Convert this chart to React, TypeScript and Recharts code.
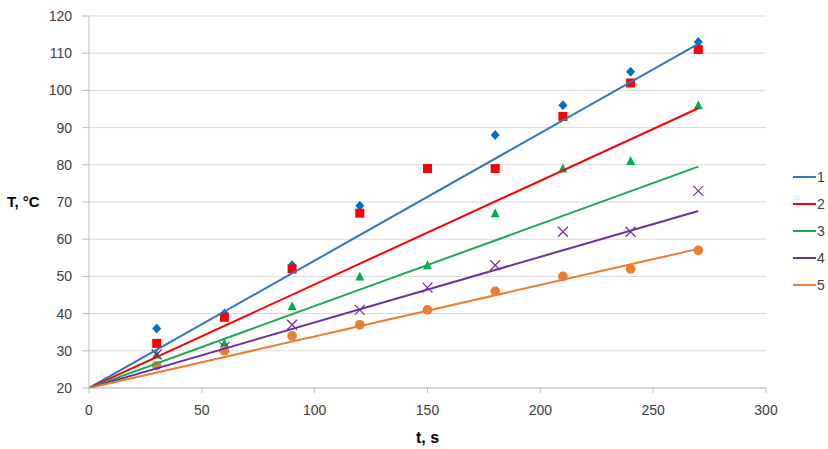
import {
  CartesianGrid,
  Label,
  Scatter,
  ScatterChart,
  XAxis,
  YAxis,
} from "recharts";

// heating time, s
const times = [30, 60, 90, 120, 150, 180, 210, 240, 270];

// measured temperature, °C
const series1 = [36, 40, 53, 69, 79, 88, 96, 105, 113];
const series2 = [32, 39, 52, 67, 79, 79, 93, 102, 111];
const series3 = [29, 32, 42, 50, 53, 67, 79, 81, 96];
const series4 = [29, 31, 37, 41, 47, 53, 62, 62, 73];
const series5 = [26, 30, 34, 37, 41, 46, 50, 52, 57];

// trend lines: start point and value at the last time
const trendStartT = 0;
const trendStartValue = 20;
const trendEndT = 270;
const trendEndValues = [112.5, 95.2, 79.5, 67.6, 57.4];

const seriesNames = ["1", "2", "3", "4", "5"];
const xTicks = [0, 50, 100, 150, 200, 250, 300];
const yTicks = [20, 30, 40, 50, 60, 70, 80, 90, 100, 110, 120];

const lineColors = ["#2E78BE", "#FF0000", "#1DA756", "#7030A0", "#ED7D31"];
const markerColors = ["#0070C0", "#FF0000", "#00B050", "#7030A0", "#ED7D31"];

const axisGray = "#BFBFBF";
const textGray = "#404040";

type P = { cx?: number; cy?: number };

const Diamond = ({ cx = 0, cy = 0 }: P) => (
  <path
    d={`M${cx},${cy - 5}L${cx + 4.5},${cy}L${cx},${cy + 5}L${cx - 4.5},${cy}Z`}
    fill={markerColors[0]}
  />
);
const Square = ({ cx = 0, cy = 0 }: P) => (
  <rect x={cx - 4.5} y={cy - 4.5} width={9} height={9} fill={markerColors[1]} />
);
const Triangle = ({ cx = 0, cy = 0 }: P) => (
  <path
    d={`M${cx},${cy - 5}L${cx + 4.5},${cy + 4}L${cx - 4.5},${cy + 4}Z`}
    fill={markerColors[2]}
  />
);
const Cross = ({ cx = 0, cy = 0 }: P) => (
  <path
    d={`M${cx - 5},${cy - 5}L${cx + 5},${cy + 5}M${cx + 5},${cy - 5}L${cx - 5},${cy + 5}`}
    stroke={markerColors[3]}
    strokeWidth={1.2}
    fill="none"
  />
);
const Dot = ({ cx = 0, cy = 0 }: P) => (
  <circle cx={cx} cy={cy} r={4.8} fill={markerColors[4]} />
);
const NoShape = () => <g />;

const markers = [Diamond, Square, Triangle, Cross, Dot];
const allSeries = [series1, series2, series3, series4, series5];

function LegendBox() {
  return (
    <div
      style={{
        position: "absolute",
        left: 793,
        top: 163,
        fontSize: 14,
        color: textGray,
      }}
    >
      {seriesNames.map((name, i) => (
        <div
          key={name}
          style={{ display: "flex", alignItems: "center", height: 27 }}
        >
          <span
            style={{
              display: "inline-block",
              width: 23,
              height: 2,
              background: lineColors[i],
              marginRight: 1,
            }}
          />
          <span>{name}</span>
        </div>
      ))}
    </div>
  );
}

export default function App() {
  const points = allSeries.map((s) =>
    times.map((t, i) => ({ t, T: s[i] }))
  );
  const trends = trendEndValues.map((v) => [
    { t: trendStartT, T: trendStartValue },
    { t: trendEndT, T: v },
  ]);

  return (
    <div
      style={{
        position: "relative",
        width: 828,
        height: 449,
        background: "#fff",
        fontFamily: "'Liberation Sans', Arial, sans-serif",
      }}
    >
      <style>{`body{margin:0}`}</style>
      <ScatterChart
        width={828}
        height={449}
        margin={{ top: 16, right: 62, left: 0, bottom: 6 }}
      >
        <CartesianGrid vertical={false} stroke="#D9D9D9" />
        <XAxis
          type="number"
          dataKey="t"
          domain={[0, 300]}
          ticks={xTicks}
          height={55}
          stroke={axisGray}
          tickSize={5}
          tickMargin={12}
          tick={{ fontSize: 14, fill: textGray }}
          allowDataOverflow
        >
          <Label
            value="t, s"
            position="insideBottom"
            offset={0}
            style={{ fontSize: 16, fontWeight: "bold", fill: "#000" }}
          />
        </XAxis>
        <YAxis
          type="number"
          dataKey="T"
          domain={[20, 120]}
          ticks={yTicks}
          width={89}
          stroke={axisGray}
          tickSize={7}
          tickMargin={10}
          tick={{ fontSize: 14, fill: textGray }}
          allowDataOverflow
        >
          <Label
            value="T, °C"
            position="insideLeft"
            offset={7}
            style={{
              fontSize: 15,
              fontWeight: "bold",
              fill: "#000",
              textAnchor: "start",
            }}
          />
        </YAxis>
        {points.map((data, i) => (
          <Scatter
            key={`m${i}`}
            name={seriesNames[i]}
            data={data}
            shape={markers[i]}
            isAnimationActive={false}
          />
        ))}
        {trends.map((data, i) => (
          <Scatter
            key={`t${i}`}
            data={data}
            shape={NoShape}
            line={{ stroke: lineColors[i], strokeWidth: 2 }}
            lineType="joint"
            isAnimationActive={false}
            legendType="none"
          />
        ))}
      </ScatterChart>
      <LegendBox />
    </div>
  );
}
